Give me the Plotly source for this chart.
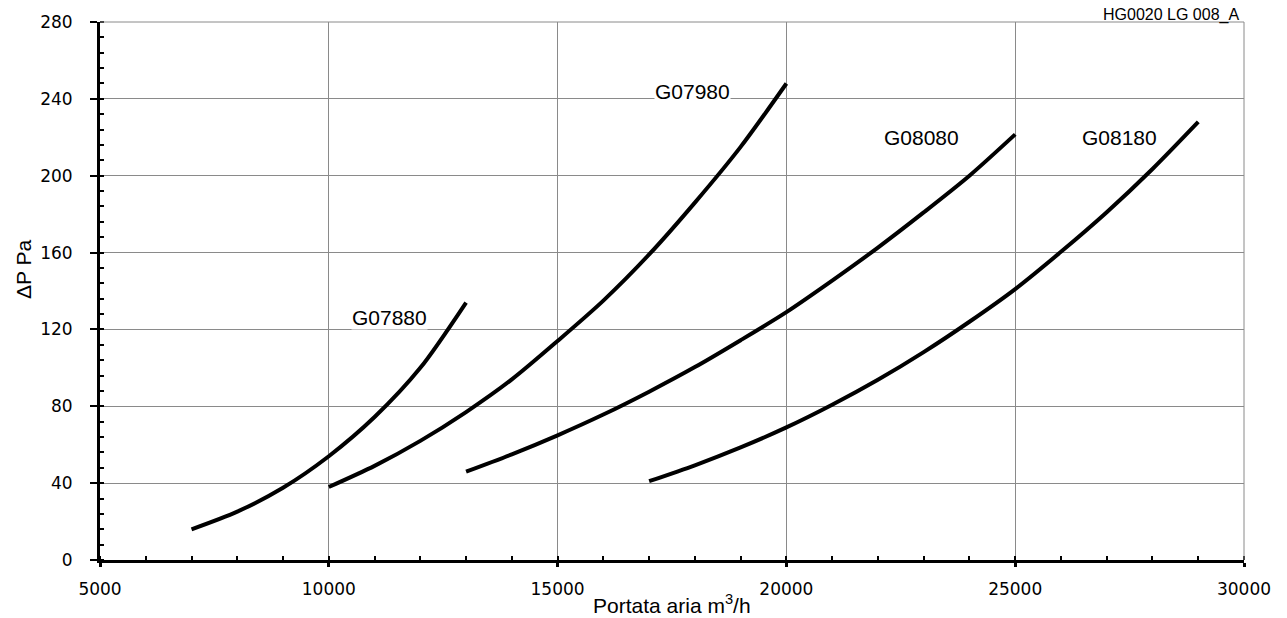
import plotly.graph_objects as go

# Data
x_g07880 = [7000, 8000, 9000, 10000, 11000, 12000, 13000]
y_g07880 = [16, 25.2, 37.6, 54, 74.4, 100, 134]

x_g07980 = [10000, 11000, 12000, 13000, 14000, 15000, 16000, 17000, 18000, 19000, 20000]
y_g07980 = [38, 49, 62, 77, 94, 114, 135, 159, 186, 215, 248]

x_g08080 = [13000, 14000, 15000, 16000, 17000, 18000, 19000, 20000, 21000, 22000, 23000, 24000, 25000]
y_g08080 = [46, 55, 64.9, 75.7, 87.6, 100.4, 114.4, 129, 145.4, 162.6, 180.9, 200, 221.5]

x_g08180 = [17000, 18000, 19000, 20000, 21000, 22000, 23000, 24000, 25000, 26000, 27000, 28000, 29000]
y_g08180 = [41, 49.3, 58.6, 69, 80.8, 93.8, 108.2, 124, 141, 160.4, 181, 203.5, 228]

series_names = ["G07880", "G07980", "G08080", "G08180"]
label_x = [11320, 17940, 22960, 27290]
label_y = [126, 244, 219.7, 219.7]

x_ticks = [5000, 10000, 15000, 20000, 25000, 30000]
y_ticks = [0, 40, 80, 120, 160, 200, 240, 280]

FONT = "Liberation Sans, Arial, sans-serif"
TICKFONT = "DejaVu Sans, sans-serif"

fig = go.Figure()
for xs, ys, nm in zip([x_g07880, x_g07980, x_g08080, x_g08180],
                      [y_g07880, y_g07980, y_g08080, y_g08180], series_names):
    fig.add_trace(go.Scatter(x=xs, y=ys, mode="lines", name=nm,
                             line=dict(color="black", width=4, shape="spline", smoothing=0.8),
                             showlegend=False, hoverinfo="x+y+name"))

for nm, lx, ly in zip(series_names, label_x, label_y):
    fig.add_annotation(x=lx, y=ly, text=nm, showarrow=False,
                       font=dict(family=FONT, size=21, color="black"),
                       bgcolor="white", borderpad=0)

# Reference code, top right
fig.add_annotation(xref="paper", yref="paper", x=0.9965, y=1.0, xanchor="right", yanchor="bottom",
                   text="HG0020 LG 008_A", showarrow=False, yshift=-3, borderpad=0,
                   font=dict(family=FONT, size=16, color="black"))

# Axis titles as annotations for precise placement
fig.add_annotation(xref="paper", yref="paper", x=0.5, y=0, xanchor="center", yanchor="middle",
                   yshift=-44, text="Portata aria m<sup>3</sup>/h", showarrow=False,
                   font=dict(family=FONT, size=21, color="black"))
fig.add_annotation(xref="paper", yref="paper", x=0, y=0.5, xanchor="center", yanchor="middle",
                   xshift=-77, yshift=21, textangle=-90, text="ΔP Pa", showarrow=False,
                   font=dict(family=FONT, size=21, color="black"))

fig.update_xaxes(range=[5000, 30000], tickvals=x_ticks, ticktext=[str(v) for v in x_ticks],
                 showgrid=True, gridcolor="#8a8a8a", gridwidth=1,
                 showline=True, linecolor="black", linewidth=3,
                 ticks="outside", ticklen=4, tickwidth=3, tickcolor="black",
                 ticklabelstandoff=8,
                 minor=dict(dtick=1000, ticks="inside", ticklen=4, tickwidth=2, tickcolor="black", showgrid=False),
                 tickfont=dict(family=TICKFONT, size=17, color="black"),
                 zeroline=False, mirror=False)
fig.update_yaxes(range=[0, 280], tickvals=y_ticks, ticktext=[str(v) for v in y_ticks],
                 showgrid=True, gridcolor="#8a8a8a", gridwidth=1,
                 showline=True, linecolor="black", linewidth=3,
                 ticks="outside", ticklen=7, tickwidth=2, tickcolor="black",
                 ticklabelstandoff=14,
                 minor=dict(dtick=8, ticks="inside", ticklen=4, tickwidth=2, tickcolor="black", showgrid=False),
                 tickfont=dict(family=TICKFONT, size=17, color="black"),
                 zeroline=False)

fig.add_shape(type="line", xref="paper", yref="paper", x0=0, x1=1, y0=1, y1=1,
              line=dict(color="#8a8a8a", width=1))
fig.add_shape(type="line", xref="paper", yref="paper", x0=1, x1=1, y0=0, y1=1,
              line=dict(color="#8a8a8a", width=1))

fig.update_layout(width=1287, height=618, margin=dict(l=100, r=43, t=15, b=58),
                  plot_bgcolor="white", paper_bgcolor="white")

fig.write_html("out.html")
